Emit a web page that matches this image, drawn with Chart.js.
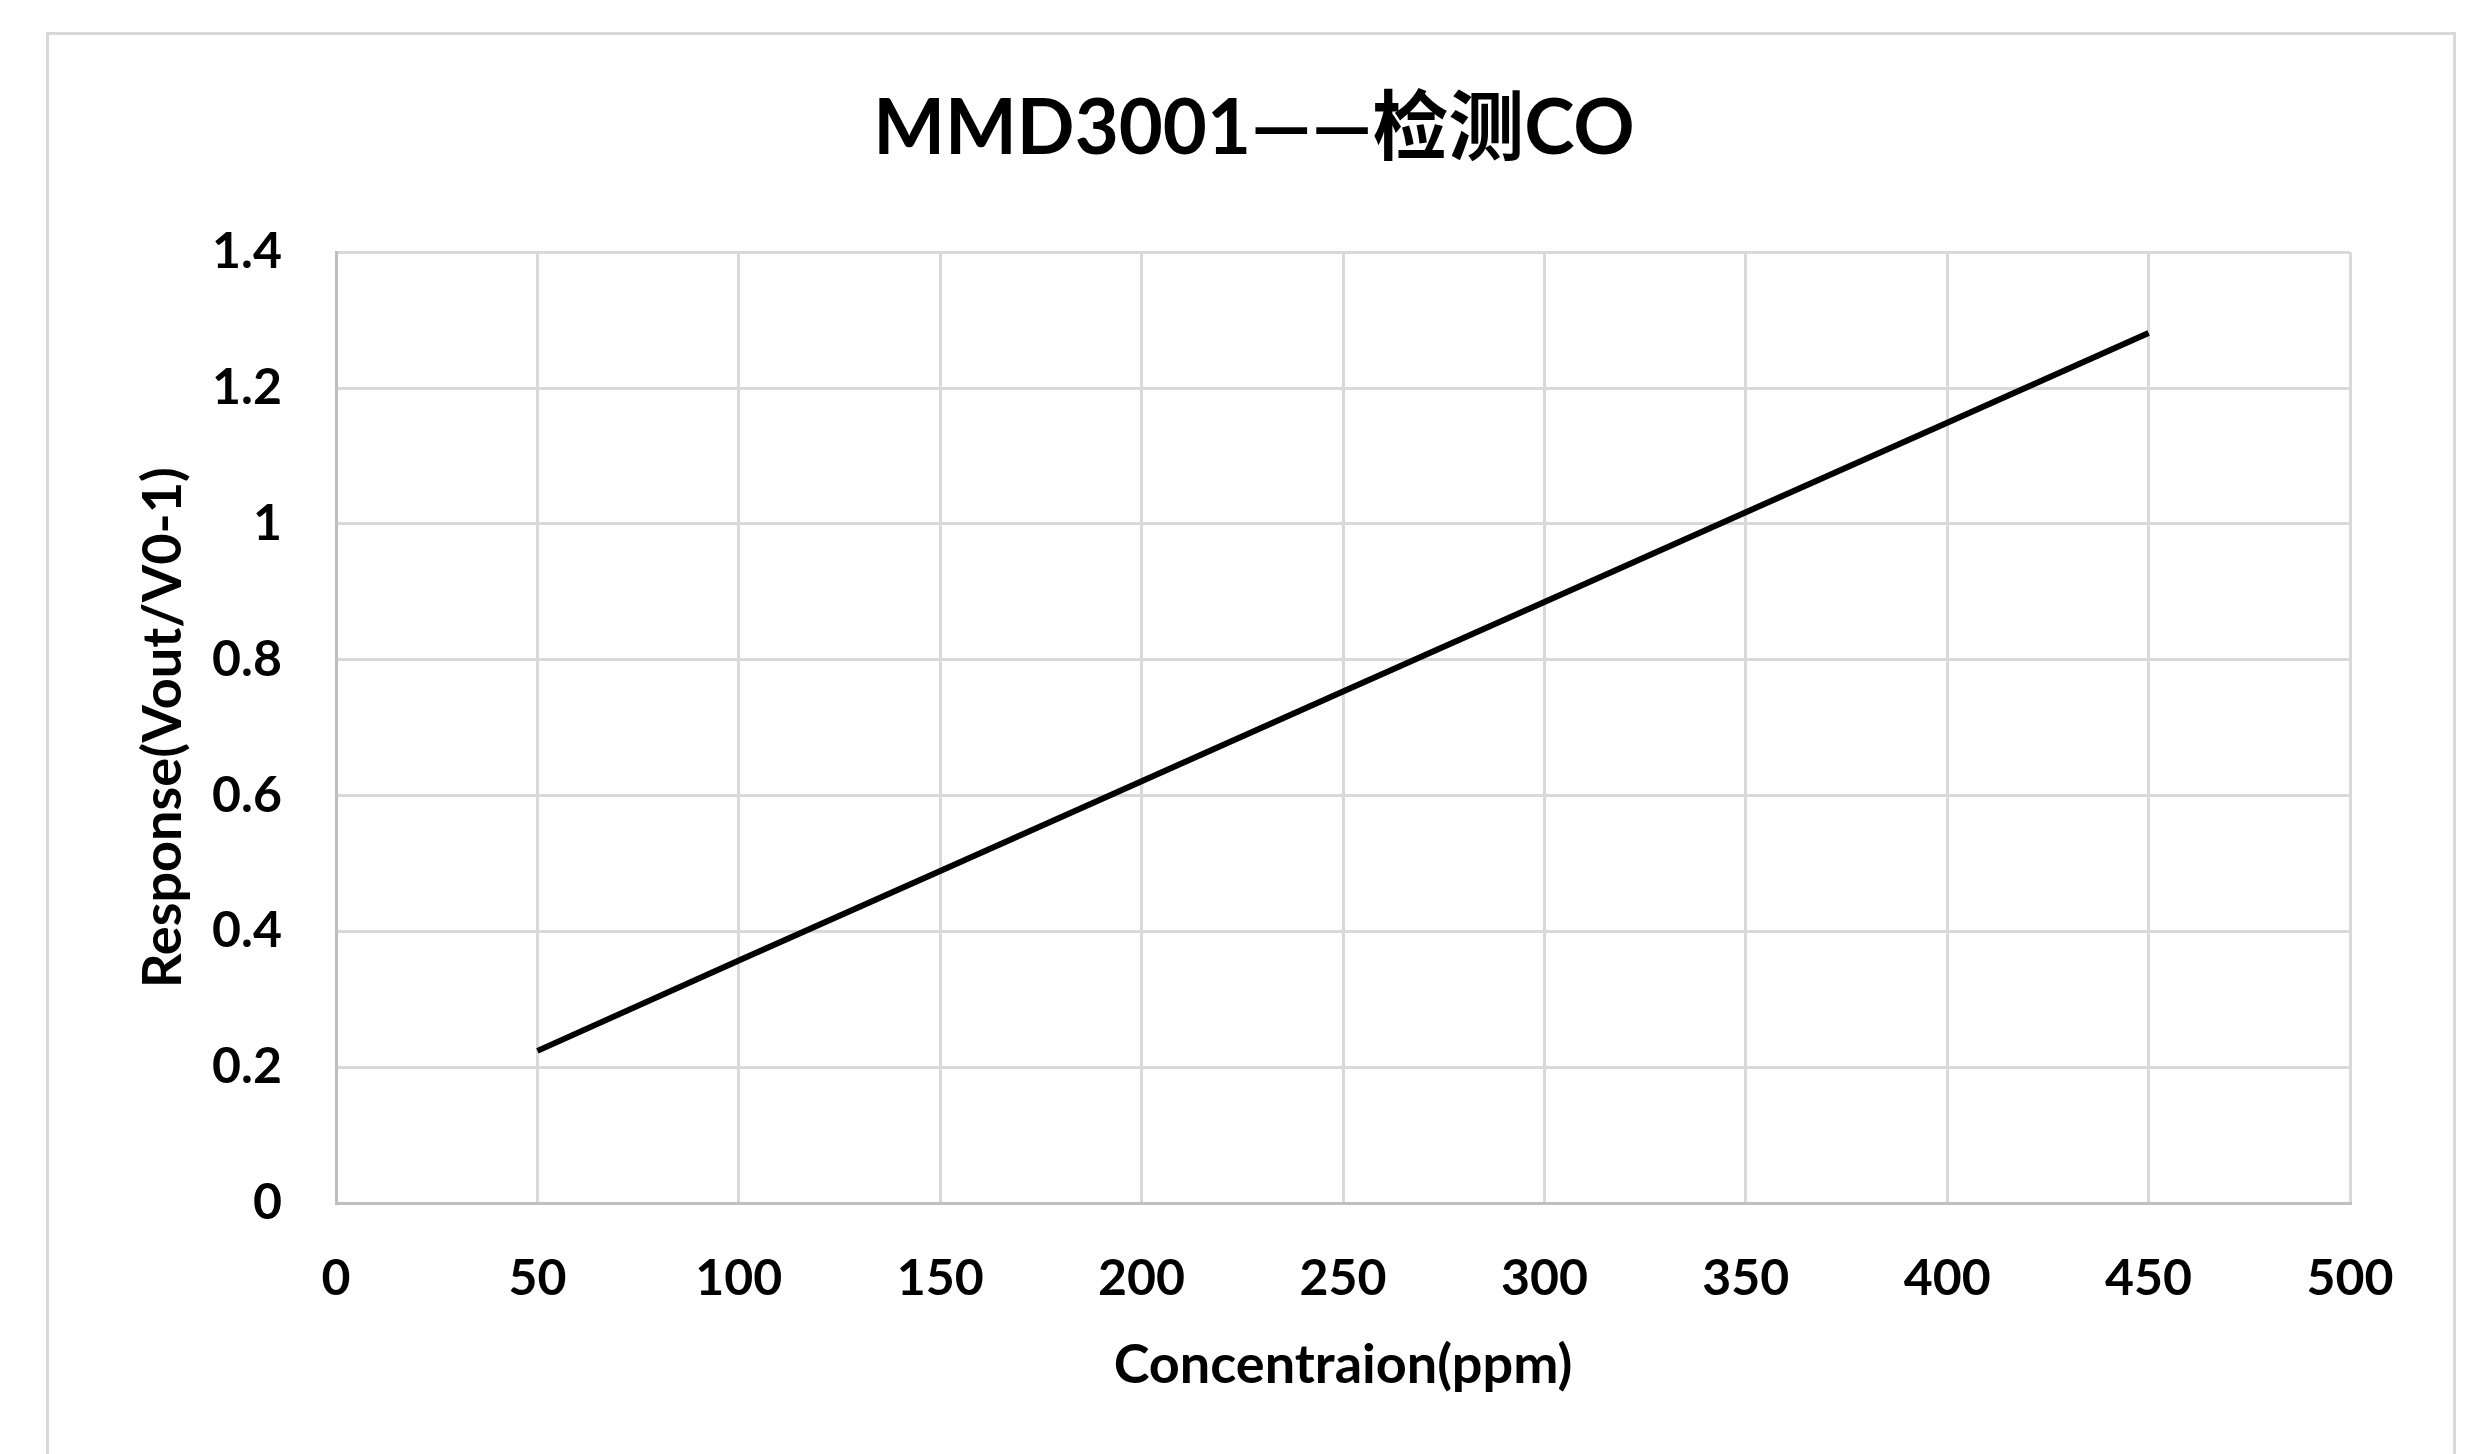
<!DOCTYPE html>
<html>
<head>
<meta charset="utf-8">
<script src="https://cdn.jsdelivr.net/npm/chart.js@4/dist/chart.umd.min.js"></script>
<style>
  html, body { margin: 0; padding: 0; background: #ffffff; }
  #wrap { position: relative; width: 2483px; height: 1454px; overflow: hidden; background: #fff; }
  #frame { position: absolute; left: 46px; top: 32px; width: 2410px; height: 1500px; border: 3px solid #d9d9d9; box-sizing: border-box; }
  #c { position: absolute; left: 0; top: 0; }
</style>
</head>
<body>
<div id="wrap">
  <div id="frame"></div>
  <canvas id="c" width="2483" height="1454"></canvas>
</div>
<script>
const chartTitle = 'MMD3001——检测CO';
const xAxisTitle = 'Concentraion(ppm)';
const yAxisTitle = 'Response(Vout/V0-1)';
const concentration = [50, 100, 150, 200, 250, 300, 350, 400, 450];
const response = [0.224, 0.357, 0.489, 0.621, 0.753, 0.885, 1.017, 1.149, 1.281];
const xTicks = [0, 50, 100, 150, 200, 250, 300, 350, 400, 450, 500];
const yTicks = [0, 0.2, 0.4, 0.6, 0.8, 1, 1.2, 1.4];

const FONT = "Lato, 'Noto Sans CJK SC', sans-serif";

const points = concentration.map((x, i) => ({ x: x, y: response[i] }));

new Chart(document.getElementById('c'), {
  type: 'scatter',
  data: {
    datasets: [{
      data: points,
      showLine: true,
      borderColor: '#000000',
      backgroundColor: '#000000',
      borderWidth: 6,
      pointRadius: 0,
      pointHoverRadius: 0,
      tension: 0
    }]
  },
  options: {
    responsive: false,
    animation: false,
    events: [],
    layout: { padding: { left: 158, right: 133, top: 0, bottom: 0 } },
    plugins: {
      legend: { display: false },
      tooltip: { enabled: false },
      title: {
        display: true,
        text: chartTitle,
        color: '#000000',
        font: { family: FONT, size: 76, weight: 'bold', lineHeight: 1.2 },
        padding: { top: 84, bottom: 77 }
      }
    },
    scales: {
      x: {
        type: 'linear',
        min: 0,
        max: 500,
        afterBuildTicks: (s) => { s.ticks = xTicks.map(v => ({ value: v })); },
        afterFit: (s) => { s.height = 251; },
        grid: { color: '#d9d9d9', lineWidth: 3, drawTicks: false },
        border: { color: '#bfbfbf', width: 3 },
        ticks: {
          color: '#000000',
          padding: 46,
          maxRotation: 0,
          font: { family: FONT, size: 50, weight: 'bold' }
        },
        title: {
          display: true,
          text: xAxisTitle,
          color: '#000000',
          font: { family: FONT, size: 54, weight: 'bold', lineHeight: 1.2 },
          padding: { top: 0, bottom: 56 }
        }
      },
      y: {
        type: 'linear',
        min: 0,
        max: 1.4,
        afterBuildTicks: (s) => { s.ticks = yTicks.map(v => ({ value: v })); },
        afterFit: (s) => { s.width = 178; },
        grid: { color: '#d9d9d9', lineWidth: 3, drawTicks: false },
        border: { color: '#bfbfbf', width: 3 },
        ticks: {
          color: '#000000',
          padding: 54,
          font: { family: FONT, size: 50, weight: 'bold' },
          callback: (v) => String(Math.round(v * 10) / 10)
        },
        title: {
          display: true,
          text: yAxisTitle,
          color: '#000000',
          font: { family: FONT, size: 54, weight: 'bold', lineHeight: 1.2 },
          padding: { top: -27, bottom: 0 }
        }
      }
    }
  }
});
</script>
</body>
</html>
